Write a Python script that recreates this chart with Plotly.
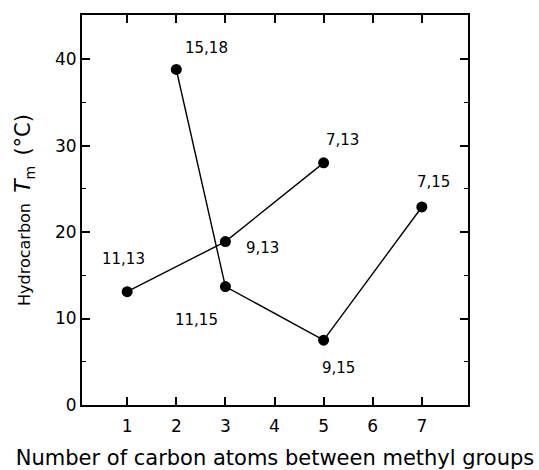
import plotly.graph_objects as go

# Series 1: x,13 dimethyl series
s1_x = [1, 3, 5]
s1_y = [13.1, 18.9, 28.0]
s1_labels = ["11,13", "9,13", "7,13"]

# Series 2: x,15 (and 15,18) series
s2_x = [2, 3, 5, 7]
s2_y = [38.8, 13.7, 7.5, 22.9]
s2_labels = ["15,18", "11,15", "9,15", "7,15"]

x_ticks = [1, 2, 3, 4, 5, 6, 7]
y_ticks = [0, 10, 20, 30, 40]

FONT = "DejaVu Sans"

fig = go.Figure()
for xs, ys in [(s1_x, s1_y), (s2_x, s2_y)]:
    fig.add_trace(go.Scatter(
        x=xs, y=ys, mode="lines+markers",
        line=dict(color="black", width=1.4),
        marker=dict(color="black", size=11),
        showlegend=False, hoverinfo="skip"))

# label offsets (pixels) for each point label
s1_off = [(-4, 33), (37, -6), (19, 23)]
s2_off = [(30, 21), (-29, -33), (15, -28), (12, 25)]

for xs, ys, labs, offs in [(s1_x, s1_y, s1_labels, s1_off), (s2_x, s2_y, s2_labels, s2_off)]:
    for x, y, t, (dx, dy) in zip(xs, ys, labs, offs):
        fig.add_annotation(x=x, y=y, text=t, showarrow=False,
                           xshift=dx, yshift=dy,
                           font=dict(family=FONT, size=15, color="black"))

axis_common = dict(
    showline=True, linecolor="black", linewidth=1.8, mirror="ticks",
    ticks="inside", ticklen=8, tickwidth=1.5, tickcolor="black",
    showgrid=False, zeroline=False, automargin=False,
    tickfont=dict(family=FONT, size=17, color="black"),
)

fig.update_xaxes(range=[0.08, 7.94], tickvals=x_ticks, ticklabelstandoff=5,
                 title=dict(text="Number of carbon atoms between methyl groups",
                            font=dict(family=FONT, size=21, color="black"), standoff=18),
                 **axis_common)
fig.update_yaxes(range=[0, 45.1], tickvals=y_ticks,
                 minor=dict(tickvals=[5, 15, 25, 35], ticks="inside", ticklen=4,
                            tickwidth=1.2, tickcolor="black"),
                 title=dict(text="Hydrocarbon&nbsp;&nbsp;<i><span style='font-size:22px'>T</span></i><span style='font-size:20px'><sub>m</sub></span>&nbsp;&nbsp;<span style='font-size:21px'>(°C)</span>",
                            font=dict(family=FONT, size=16, color="black"), standoff=20),
                 **axis_common)

fig.update_layout(
    width=539, height=470,
    margin=dict(l=82, r=71, t=15, b=65),
    paper_bgcolor="white", plot_bgcolor="white",
)

fig.write_html("out.html")
